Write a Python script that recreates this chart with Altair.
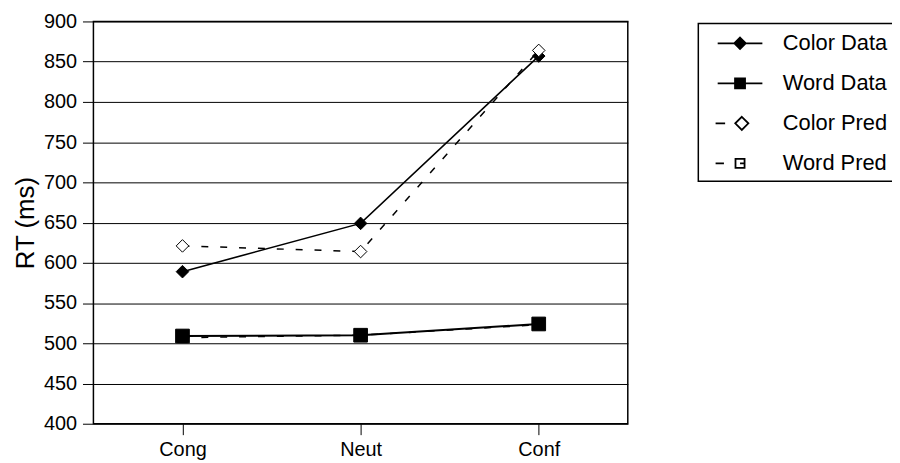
import altair as alt
import pandas as pd

FONT = "Liberation Sans"

conditions = ["Cong", "Neut", "Conf"]
series_names = ["Color Data", "Word Data", "Color Pred", "Word Pred"]
color_data = [589, 649, 857]
word_data = [509, 510, 524]
color_pred = [621, 614, 864]
word_pred = [507, 510, 523]
y_ticks = [400, 450, 500, 550, 600, 650, 700, 750, 800, 850, 900]

rows = []
for name, vals in zip(series_names, [color_data, word_data, color_pred, word_pred]):
    for c, v in zip(conditions, vals):
        rows.append({"condition": c, "rt": v, "series": name})
df = pd.DataFrame(rows)

# legend symbols: line segment + marker, in symbol units
legend_paths = [
    "M-1.875,0L1.875,0M0,-0.48L0.48,0L0,0.48L-0.48,0Z",
    "M-1.875,0L1.875,0M-0.42,-0.42L0.42,-0.42L0.42,0.42L-0.42,0.42Z",
    "M-2.05,0L-1.25,0M0.15,-0.55L0.7,0L0.15,0.55L-0.4,0Z",
    "M-2.05,0L-1.35,0M-0.38,-0.38L0.38,-0.38L0.38,0.38L-0.38,0.38ZM0,0L0.38,0",
]
legend_fills = ["black", "black", "white", "white"]
legend_strokes = ["black", "black", "black", "black"]

x_enc = alt.X(
    "condition:N",
    sort=conditions,
    scale=alt.Scale(domain=conditions, type="point", padding=0.5),
    axis=alt.Axis(
        title=None, labelAngle=0, labelFont=FONT, labelFontSize=20, labelColor="black",
        tickColor="black", tickSize=11, tickWidth=1, domain=False, grid=False, labelPadding=5,
    ),
)
y_enc = alt.Y(
    "rt:Q",
    scale=alt.Scale(domain=[400, 900], nice=False, zero=False),
    axis=alt.Axis(
        title="RT (ms)", values=y_ticks, titleFont=FONT, titleFontSize=26,
        titleFontWeight="normal", titleColor="black", titlePadding=5,
        labelFont=FONT, labelFontSize=20, labelColor="black", labelPadding=6,
        tickColor="black", tickSize=11, tickWidth=1, domain=False,
        grid=True, gridColor="black", gridWidth=1, gridOpacity=1,
    ),
)

base = alt.Chart(df).encode(x=x_enc, y=y_enc)


def only(name):
    return alt.datum.series == name


pred_lines = base.transform_filter(
    (alt.datum.series == "Color Pred") | (alt.datum.series == "Word Pred")
).mark_line(color="black", strokeWidth=1.5, strokeDash=[7, 12]).encode(detail="series:N")

color_line = base.transform_filter(only("Color Data")).mark_line(color="black", strokeWidth=1.6)
word_line = base.transform_filter(only("Word Data")).mark_line(color="black", strokeWidth=2)

word_pred_pts = base.transform_filter(only("Word Pred")).mark_point(
    shape="square", filled=True, fill="white", stroke="black", strokeWidth=1, size=100, opacity=1)
color_data_pts = base.transform_filter(only("Color Data")).mark_point(
    shape="diamond", filled=True, fill="black", stroke="black", strokeWidth=1, size=160, opacity=1)
color_pred_pts = base.transform_filter(only("Color Pred")).mark_point(
    shape="diamond", filled=True, fill="white", stroke="black", strokeWidth=1, size=160, opacity=1)
word_data_pts = base.transform_filter(only("Word Data")).mark_point(
    shape="square", filled=True, fill="black", stroke="black", strokeWidth=1, size=190, opacity=1)


def make_legend():
    return alt.Legend(
        orient="none", legendX=609, legendY=2, title=None,
        strokeColor="black", padding=7,
        symbolSize=576, symbolStrokeWidth=1.8,
        symbolOffset=22, labelOffset=30, rowPadding=16.3,
        labelFont=FONT, labelFontSize=22, labelColor="black",
        labelExpr="datum.label + '\u00a0\u00a0\u00a0\u00a0\u00a0'",
    )


legend_layer = base.transform_filter("datum.rt > 100000").mark_point(
    filled=True, strokeWidth=1.8, opacity=1
).encode(
    shape=alt.Shape("series:N", scale=alt.Scale(domain=series_names, range=legend_paths),
                    legend=make_legend()),
    fill=alt.Fill("series:N", scale=alt.Scale(domain=series_names, range=legend_fills),
                  legend=make_legend()),
    stroke=alt.Stroke("series:N", scale=alt.Scale(domain=series_names, range=legend_strokes),
                      legend=make_legend()),
)

chart = alt.layer(
    pred_lines, color_line, word_line,
    word_pred_pts, color_data_pts, color_pred_pts, word_data_pts,
    legend_layer,
).properties(
    width=538, height=405,
    padding={"left": 86, "top": 12, "right": 266, "bottom": 38},
    autosize=alt.AutoSizeParams(type="none"),
    background="white",
).configure_view(
    stroke="black", strokeWidth=1.5
).configure_legend(
    strokeWidth=1.5
)

chart.save("out.html", embed_options={"renderer": "svg", "actions": False})
